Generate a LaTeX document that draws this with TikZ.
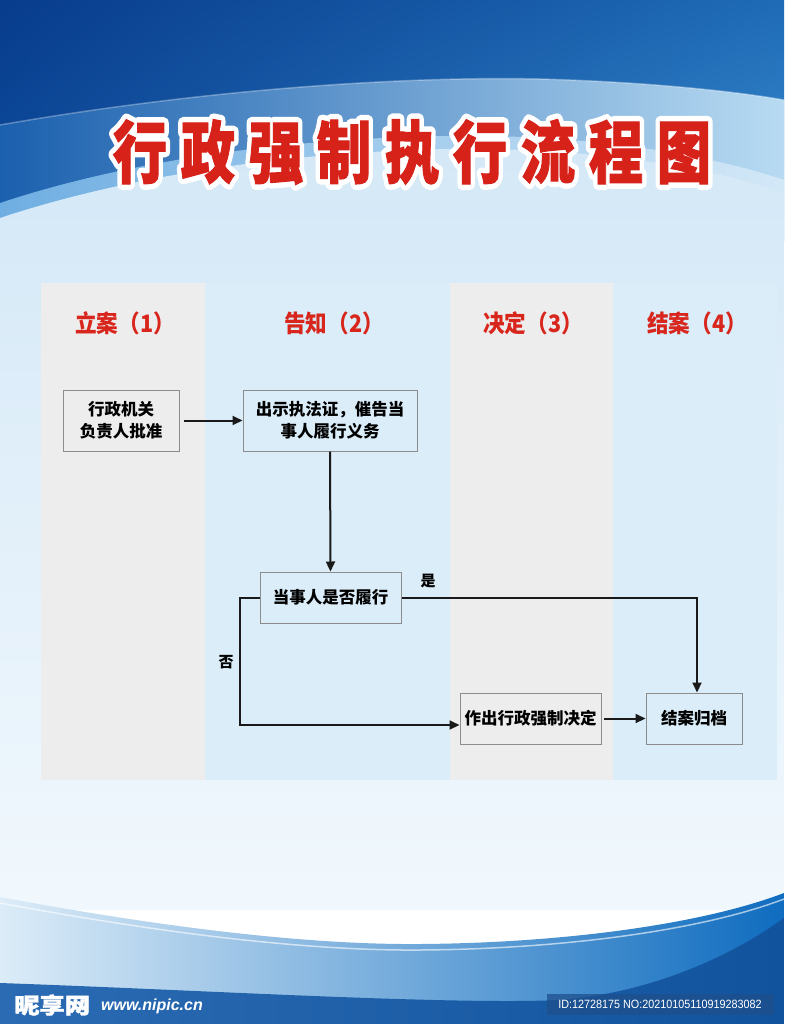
\documentclass[tikz,border=0pt]{standalone}
\usepackage{fontspec}
\setmainfont{Noto Sans CJK SC}
\newfontfamily\cjk{Noto Sans CJK SC}
\newfontfamily\cjkfat{Noto Sans CJK SC}[FakeBold=1.5]
\newfontfamily\latinsans{Liberation Sans}
\usetikzlibrary{arrows.meta,calc,shadings}
\definecolor{hdred}{HTML}{D9261C}
\definecolor{titlered}{HTML}{D7221A}
\definecolor{lanegray}{HTML}{EDEDED}
\definecolor{laneblue}{HTML}{DAEDF9}
\definecolor{boxline}{HTML}{8C8C8C}
\definecolor{arrowk}{HTML}{1A1A1A}
\definecolor{tdUL}{HTML}{083C8C}
\definecolor{tdUR}{HTML}{1F6BB6}
\definecolor{tdLL}{HTML}{0E4E9E}
\definecolor{tdLR}{HTML}{3C8FD2}
\definecolor{bandL}{HTML}{1B60AE}
\definecolor{bandM}{HTML}{3A8ED3}
\definecolor{bandR}{HTML}{B8DBF2}
\definecolor{stripL}{HTML}{6FAEE2}
\definecolor{stripR}{HTML}{D3E8F7}
\definecolor{lightT}{HTML}{D4E8F7}
\definecolor{lightB}{HTML}{F1F8FD}
\definecolor{botL}{HTML}{DCECF8}
\definecolor{botM}{HTML}{3A95D9}
\definecolor{botR}{HTML}{0F6CBF}
\definecolor{darkL}{HTML}{2A6BB3}
\definecolor{darkR}{HTML}{12539E}
\definecolor{idbox}{HTML}{1E4F8C}
\newcommand{\titletext}{\scalebox{0.8}[1]{行\hspace{17pt}政\hspace{17pt}强\hspace{17pt}制\hspace{17pt}执\hspace{17pt}行\hspace{17pt}流\hspace{17pt}程\hspace{17pt}图}}
\newcommand{\outlined}[1]{\special{pdf:literal direct 1 Tr 12 w 1 j 1 J}#1\special{pdf:literal direct 0 Tr 1 w 0 j 0 J}}
\newcommand{\headtext}[1]{\scalebox{0.9}[1]{#1}}
\tikzset{
  titlefnt/.style={font=\cjkfat\bfseries\fontsize{68}{68}\selectfont, inner sep=0pt},
  titleedge/.style={font=\cjk\bfseries\fontsize{68}{68}\selectfont, inner sep=0pt, text=white},
  lanehead/.style={font=\cjk\bfseries\fontsize{24}{24}\selectfont, text=hdred, inner sep=0pt},
  flowbox/.style={draw=boxline, line width=1pt, align=center, inner sep=0pt,
    font=\cjk\bfseries\fontsize{16.5}{22}\selectfont, text=black},
  arr/.style={draw=arrowk, line width=2pt, -{Triangle[length=10pt,width=9pt]}},
  branch/.style={font=\cjk\bfseries\fontsize{15}{15}\selectfont, text=black, inner sep=0pt}
}
\begin{document}
\begin{tikzpicture}[x=1pt,y=-1pt]
\useasboundingbox (0,0) rectangle (784,1024);
% ---------- background ----------
\shade[upper left=tdUL, upper right=tdUR, lower left=tdLL, lower right=tdLR] (0,0) rectangle (784,240);
\shade[left color=bandL, middle color=bandM, right color=bandR]
  (0,125) .. controls (200,90) and (400,76) .. (540,79) .. controls (650,82) and (740,92) .. (784,100)
  -- (784,240) -- (0,240) -- cycle;
\draw[white, opacity=0.3, line width=1.5pt]
  (0,125) .. controls (200,90) and (400,76) .. (540,79) .. controls (650,82) and (740,92) .. (784,100);
\shade[left color=stripL, right color=stripR]
  (0,203) .. controls (120,163) and (280,138) .. (450,136) .. controls (600,134) and (720,158) .. (784,180)
  -- (784,240) -- (0,240) -- cycle;
\shade[top color=lightT, bottom color=lightB]
  (0,218) .. controls (120,178) and (280,152) .. (450,149) .. controls (600,147) and (720,170) .. (784,193)
  -- (784,910) -- (0,910) -- cycle;
\shade[left color=botL, middle color=botM, right color=botR]
  (0,897) .. controls (150,925) and (300,945) .. (420,944) .. controls (560,943) and (700,925) .. (784,893)
  -- (784,1024) -- (0,1024) -- cycle;
\draw[white, opacity=0.6, line width=1.5pt]
  (0,903) .. controls (150,931) and (300,951) .. (420,950) .. controls (560,949) and (700,931) .. (784,899);
\shade[left color=darkL, right color=darkR]
  (0,983) .. controls (200,990) and (450,1005) .. (560,1000) .. controls (660,992) and (740,950) .. (784,918)
  -- (784,1024) -- (0,1024) -- cycle;
% ---------- title ----------
\node[titleedge] (titleback) at (412,152) {\outlined{\titletext}};
\node[titlefnt, text=titlered] (title) at (412,152) {\titletext};
% ---------- lanes ----------
\fill[lanegray] (41,283) rectangle (205,780);
\fill[laneblue] (205,283) rectangle (450,780);
\fill[lanegray] (450,283) rectangle (613,780);
\fill[laneblue] (613,283) rectangle (777,780);
\node[lanehead] (h1) at (125,323) {\headtext{立案（1）}};
\node[lanehead] (h2) at (334,323) {\headtext{告知（2）}};
\node[lanehead] (h3) at (533,323) {\headtext{决定（3）}};
\node[lanehead] (h4) at (697,323) {\headtext{结案（4）}};
% ---------- boxes ----------
\node[flowbox, minimum width=116pt, minimum height=61pt] (b1) at (121,420.5) {行政机关\\负责人批准};
\node[flowbox, minimum width=174pt, minimum height=61pt] (b2) at (330,420.5) {出示执法证，催告当\\事人履行义务};
\node[flowbox, minimum width=141pt, minimum height=51pt] (b3) at (330.5,597.5) {当事人是否履行};
\node[flowbox, minimum width=141pt, minimum height=51pt] (b4) at (530.5,718.5) {作出行政强制决定};
\node[flowbox, minimum width=96pt, minimum height=51pt] (b5) at (694,718.5) {结案归档};
% ---------- connectors ----------
\draw[arr] ([xshift=4pt]b1.east) -- (b2.west);
\draw[arr] (b2.south) -- (b3.north);
\draw[arr] (b3.east) -| ([xshift=3pt]b5.north);
\draw[arr] (b3.west) -- ++(-20,0) |- ([yshift=-6.5pt]b4.west);
\draw[arr] ([xshift=2pt]b4.east) -- (b5.west);
\node[branch] (yes) at (428,581) {是};
\node[branch] (no) at (226,662) {否};
% ---------- watermark ----------
\node[font=\cjkfat\bfseries\fontsize{22}{22}\selectfont, text=white, inner sep=0pt, anchor=west] (wm1) at (14,1005) {\scalebox{1.15}[1]{昵享网}};
\node[font=\latinsans\bfseries\itshape\fontsize{16}{16}\selectfont, text=white, inner sep=0pt, anchor=west] (wm2) at (101,1006) {www.nipic.cn};
\fill[idbox, opacity=0.75] (547,994) rectangle (774,1015);
\node[font=\latinsans\fontsize{12}{12}\selectfont, text=white, inner sep=0pt] (wm3) at (660,1004.5) {\scalebox{0.9}[1]{ID:12728175 NO:20210105110919283082}};
\end{tikzpicture}
\end{document}
